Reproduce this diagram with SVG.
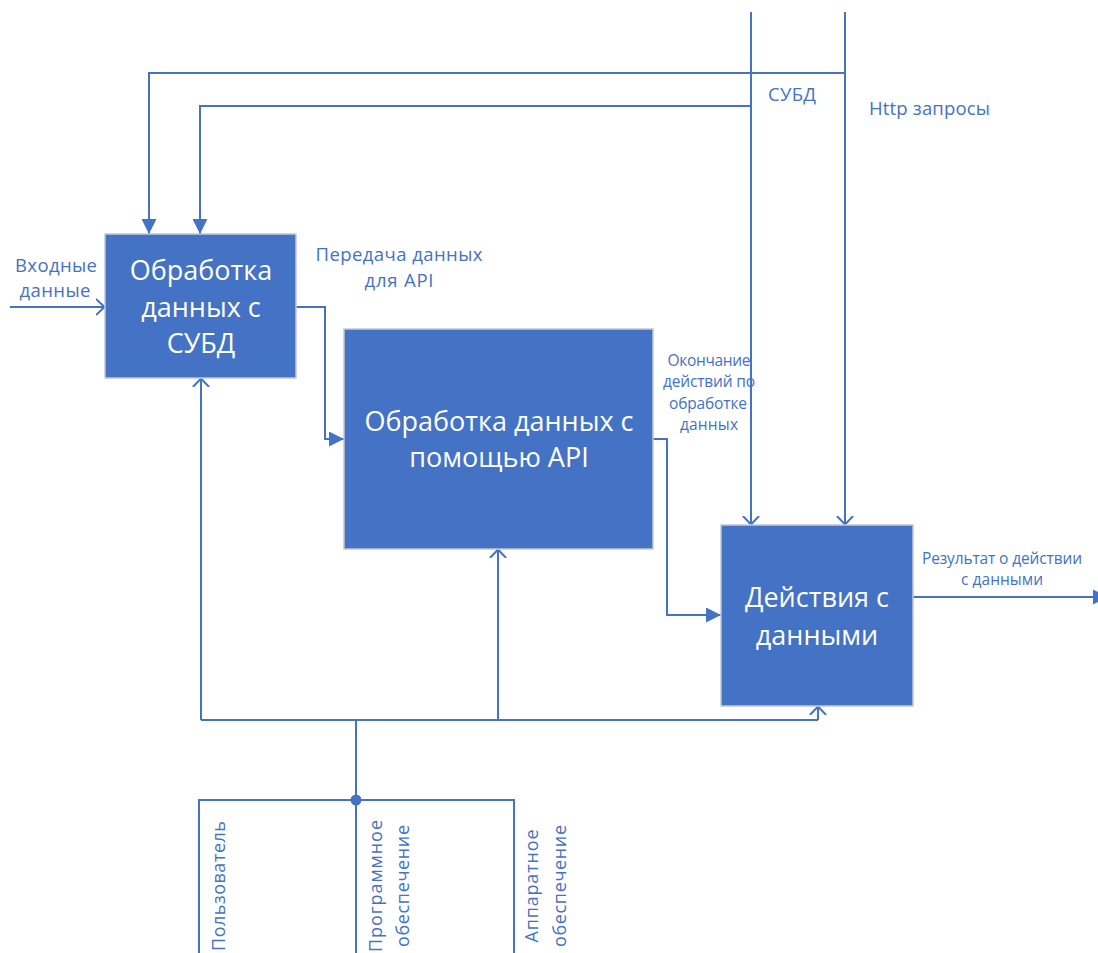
<svg xmlns="http://www.w3.org/2000/svg" width="1098" height="953" viewBox="0 0 1098 953">
  <style>
    .box { fill: #4472C4; stroke: #c3c8d2; stroke-width: 1.5; }
    .btxt { fill: #ffffff; font-family: "Open Sans", "Noto Sans", sans-serif; font-size: 27px; text-anchor: middle; }
    .lbl { fill: #4472C4; font-family: "Open Sans", "Noto Sans", sans-serif; font-size: 18.5px; text-anchor: middle; }
    .sm { font-size: 15.5px; }
    .vt { font-size: 18px; }
    .ln { fill: none; stroke: #4472C4; stroke-width: 2; }
  </style>
  <defs>
    <marker id="solid" viewBox="0 0 10 10" refX="10" refY="5" markerUnits="userSpaceOnUse" markerWidth="15" markerHeight="15" orient="auto">
      <path d="M0,0 L10,5 L0,10 Z" fill="#4472C4"/>
    </marker>
    <marker id="open" viewBox="0 0 10 20" refX="10" refY="10" markerUnits="userSpaceOnUse" markerWidth="9" markerHeight="18" orient="auto">
      <path d="M0,1 L9.5,10 L0,19" fill="none" stroke="#4472C4" stroke-width="2.2"/>
    </marker>
  </defs>

  <g id="connectors">
    <!-- controls from the top -->
    <path class="ln" d="M845,12 V73 H149 V234" marker-end="url(#solid)"/>
    <path class="ln" d="M751,12 V106 H200 V234" marker-end="url(#solid)"/>
    <path class="ln" d="M751,106 V525" marker-end="url(#open)"/>
    <path class="ln" d="M845,73 V525" marker-end="url(#open)"/>
    <!-- input -->
    <path class="ln" d="M10,307 H105" marker-end="url(#open)"/>
    <!-- box to box flows -->
    <path class="ln" d="M296,307 H325 V439 H344" marker-end="url(#solid)"/>
    <path class="ln" d="M653,439 H667 V615 H721" marker-end="url(#solid)"/>
    <!-- output -->
    <path class="ln" d="M913,597 H1108" marker-end="url(#solid)"/>
    <!-- mechanisms from below -->
    <path class="ln" d="M201,720 V378" marker-end="url(#open)"/>
    <path class="ln" d="M498,720 V549" marker-end="url(#open)"/>
    <path class="ln" d="M818,720 V706" marker-end="url(#open)"/>
    <path class="ln" d="M201,720 H818"/>
    <path class="ln" d="M356,720 V800"/>
    <path class="ln" d="M199,953 V800 H514 V953"/>
    <path class="ln" d="M356,800 V953"/>
    <circle cx="356" cy="800" r="5.5" fill="#4472C4"/>
  </g>

  <g id="node-dbms">
    <rect class="box" x="105" y="234" width="191" height="144"/>
    <text class="btxt" x="201" y="280">Обработка</text>
    <text class="btxt" x="201" y="317">данных с</text>
    <text class="btxt" x="201" y="353">СУБД</text>
  </g>

  <g id="node-api">
    <rect class="box" x="344" y="329" width="309" height="220"/>
    <text class="btxt" x="499" y="431">Обработка данных с</text>
    <text class="btxt" x="499" y="467">помощью API</text>
  </g>

  <g id="node-actions">
    <rect class="box" x="721" y="525" width="192" height="181"/>
    <text class="btxt" x="817" y="607">Действия с</text>
    <text class="btxt" x="817" y="645">данными</text>
  </g>

  <g id="labels">
    <text class="lbl" x="768" y="101" style="text-anchor:start" textLength="48">СУБД</text>
    <text class="lbl" x="869" y="115" style="text-anchor:start" textLength="121">Http запросы</text>
    <text class="lbl" x="56" y="272" textLength="82">Входные</text>
    <text class="lbl" x="55" y="297" textLength="71">данные</text>
    <text class="lbl" x="399" y="261" textLength="167">Передача данных</text>
    <text class="lbl" x="399" y="287" textLength="69">для API</text>
    <text class="lbl sm" x="709" y="366" textLength="83">Окончание</text>
    <text class="lbl sm" x="709" y="387" textLength="92">действий по</text>
    <text class="lbl sm" x="708" y="409" textLength="78">обработке</text>
    <text class="lbl sm" x="709" y="430" textLength="58">данных</text>
    <text class="lbl sm" x="1002" y="564" textLength="160">Результат о действии</text>
    <text class="lbl sm" x="1002" y="585" textLength="82">с данными</text>
    <text class="lbl vt" transform="translate(225,886) rotate(-90)" textLength="130">Пользователь</text>
    <text class="lbl vt" transform="translate(382,886) rotate(-90)" textLength="132">Программное</text>
    <text class="lbl vt" transform="translate(409,886) rotate(-90)" textLength="122">обеспечение</text>
    <text class="lbl vt" transform="translate(538,886) rotate(-90)" textLength="113">Аппаратное</text>
    <text class="lbl vt" transform="translate(566,886) rotate(-90)" textLength="122">обеспечение</text>
  </g>
</svg>
